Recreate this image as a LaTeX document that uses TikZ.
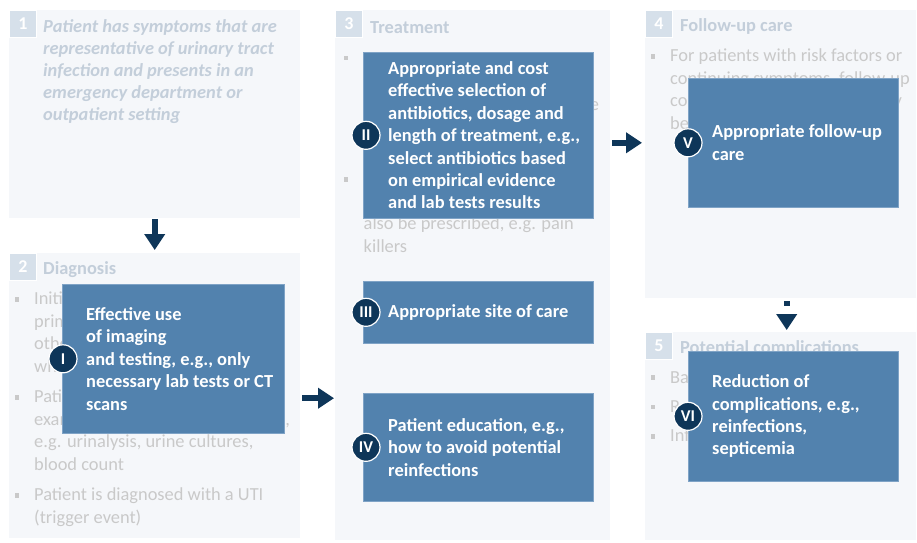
\documentclass[tikz,border=0pt]{standalone}
\usepackage{fontspec}
\setmainfont{Carlito}
\usetikzlibrary{arrows.meta}
\definecolor{panelbg}{HTML}{F5F7FA}
\definecolor{numboxc}{HTML}{D6E0EA}
\definecolor{headc}{HTML}{C3CEDA}
\definecolor{grayt}{HTML}{C9C9C9}
\definecolor{boxblue}{HTML}{5282AE}
\definecolor{boxedge}{HTML}{7FA3C6}
\definecolor{navy}{HTML}{0E3659}
\begin{document}
\begin{tikzpicture}[x=1pt,y=-1pt,
 panel/.style={fill=panelbg, draw=none, inner sep=0pt, anchor=north west},
 numbox/.style={fill=numboxc, draw=white, line width=0.8pt, minimum size=27pt, inner sep=0pt, anchor=north west, text=white, font=\bfseries\fontsize{18}{18}\selectfont},
 head/.style={text=headc, font=\bfseries\fontsize{18.4}{22.4}\selectfont, anchor=base west, inner sep=0pt},
 ptext/.style={text=headc, font=\bfseries\itshape\fontsize{18.4}{22}\selectfont, anchor=base west, inner sep=0pt, align=left},
 gtext/.style={text=grayt, font=\fontsize{18.4}{22.5}\selectfont, anchor=base west, inner sep=0pt, align=left},
 bul/.style={fill=grayt, minimum size=4.5pt, inner sep=0pt},
 bbox/.style={fill=boxblue, draw=boxedge, line width=0.6pt, inner sep=0pt, anchor=north west},
 btext/.style={text=white, font=\bfseries\fontsize{18.4}{22.4}\selectfont, align=left, anchor=west, inner sep=0pt},
 circ/.style={circle, fill=navy, draw=white, line width=1.2pt, minimum size=28pt, inner sep=0pt, text=white, font=\bfseries\fontsize{16.5}{16.5}\selectfont},
 arr/.style={draw=navy, line width=6pt, -{Triangle[length=16pt,width=20pt]}}
]
\useasboundingbox (0,0) rectangle (917,542);
\fill[white] (0,0) rectangle (917,542);

% panels
\node[panel, minimum width=291pt, minimum height=208pt] (p1) at (9,10) {};
\node[panel, minimum width=291pt, minimum height=285pt] (p2) at (9,253) {};
\node[panel, minimum width=275pt, minimum height=530pt] (p3) at (335,10) {};
\node[panel, minimum width=271pt, minimum height=288pt] (p4) at (645,10) {};
\node[panel, minimum width=271pt, minimum height=208pt] (p5) at (645,332) {};

% number boxes
\node[numbox] (n1) at (p1.north west) {1};
\node[numbox] (n2) at (p2.north west) {2};
\node[numbox] (n3) at (p3.north west) {3};
\node[numbox] (n4) at (p4.north west) {4};
\node[numbox] (n5) at (p5.north west) {5};

% panel 1 (base = last line baseline)
\node[ptext] (t1) at (43,120.5) {Patient has symptoms that are\\representative of urinary tract\\infection and presents in an\\emergency department or\\outpatient setting};

% panel 2
\node[head] (h2) at (43,274.5) {Diagnosis};
\node[bul] (u21) at (17,299.5) {};
\node[gtext] (t21) at (34,372) {Initial consultation with a\\primary care physician or\\other health professional\\who assesses symptoms};
\node[bul] (u22) at (17,397.5) {};
\node[gtext] (t22) at (34,470) {Patient undergoes a physical\\examinations and diagnostic tests,\\e.g. urinalysis, urine cultures,\\blood count};
\node[bul] (u23) at (17,495.5) {};
\node[gtext] (t23) at (34,523) {Patient is diagnosed with a UTI\\(trigger event)};

% panel 3
\node[head] (h3) at (370,33.5) {Treatment};
\node[bul] (u31) at (346,58) {};
\node[gtext] (t31) at (363.5,155) {Patient receives antibiotics\\selected according to the\\expected pathogen and disease\\severity; dosage and duration\\are adapted to the patient};
\node[bul] (u32) at (346,179.5) {};
\node[gtext] (t32) at (363.5,252) {Other drugs to relieve the\\symptoms may\\also be prescribed, e.g. pain\\killers};

% panel 4
\node[head] (h4) at (680,31.5) {Follow-up care};
\node[bul] (u41) at (653,56.5) {};
\node[gtext] (t41) at (670,129) {For patients with risk factors or\\continuing symptoms, follow-up\\consultation with a doctor may\\be necessary};

% panel 5
\node[head] (h5) at (680,353.5) {Potential complications};
\node[bul] (u51) at (653,377.5) {};
\node[gtext] (t51) at (670,383) {Bacterial resistance};
\node[bul] (u52) at (653,407) {};
\node[gtext] (t52) at (670,412) {Recurrent infections};
\node[bul] (u53) at (653,436.5) {};
\node[gtext] (t53) at (670,441.5) {Infection of the kidneys};

% arrows
\draw[arr, shorten <=1pt, shorten >=3pt] (p1.south) -- (p2.north);
\draw[arr, shorten <=2pt, shorten >=1pt] ([yshift=-2.5pt]p2.east) -- ([yshift=-2.5pt]p3.west |- p2.east);

% blue boxes
\node[bbox, minimum width=222pt, minimum height=149pt] (b1) at (62,284) {};
\node[bbox, minimum width=230pt, minimum height=166pt] (b2) at (363,52) {};
\node[bbox, minimum width=230pt, minimum height=62pt] (b3) at (363,281) {};
\node[bbox, minimum width=230pt, minimum height=108pt] (b4) at (363,393) {};
\node[bbox, minimum width=210pt, minimum height=129pt] (b5) at (688,78) {};
\node[bbox, minimum width=210pt, minimum height=130pt] (b6) at (688,351) {};

\node[btext] (bt1) at ([xshift=24pt]b1.west) {Effective use\\of imaging\\and testing, e.g., only\\necessary lab tests or CT\\scans};
\node[btext] (bt2) at ([xshift=25pt]b2.west) {Appropriate and cost\\effective selection of\\antibiotics, dosage and\\length of treatment, e.g.,\\select antibiotics based\\on empirical evidence\\and lab tests results};
\node[btext] (bt3) at ([xshift=25pt]b3.west) {Appropriate site of care};
\node[btext] (bt4) at ([xshift=25pt]b4.west) {Patient education, e.g.,\\how to avoid potential\\reinfections};
\node[btext] (bt5) at ([xshift=24pt]b5.west) {Appropriate follow-up\\care};
\node[btext] (bt6) at ([xshift=24pt]b6.west) {Reduction of\\complications, e.g.,\\reinfections,\\septicemia};

% circles
\node[circ] (c1) at ([xshift=1pt]b1.west) {I};
\node[circ] (c2) at ([xshift=3pt]b2.west) {II};
\node[circ] (c3) at ([xshift=3pt]b3.west) {III};
\node[circ] (c4) at ([xshift=3pt]b4.west) {IV};
\node[circ] (c5) at (b5.west) {V};
\node[circ] (c6) at (b6.west) {VI};

\draw[arr, shorten <=2pt, shorten >=3pt] (p3.east |- c5) -- (p4.west |- c5);
\draw[arr, dash pattern=on 5pt off 60pt, shorten <=3pt, shorten >=2pt] ([xshift=6pt]p4.south) -- ([xshift=6pt]p5.north);
\end{tikzpicture}
\end{document}
